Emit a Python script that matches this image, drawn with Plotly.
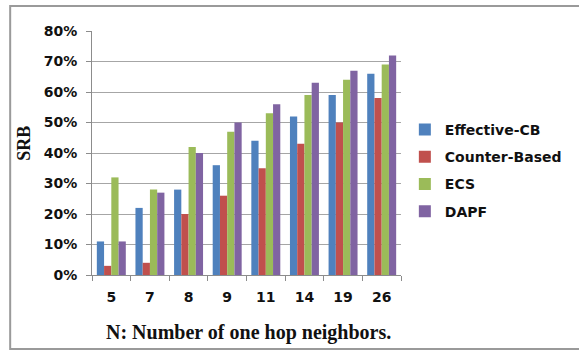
import plotly.graph_objects as go

# Number of one-hop neighbours (categories on the x axis)
neighbors = ["5", "7", "8", "9", "11", "14", "19", "26"]

# SRB per scheme, in percent
effective_cb = [11, 22, 28, 36, 44, 52, 59, 66]
counter_based = [3, 4, 20, 26, 35, 43, 50, 58]
ecs = [32, 28, 42, 47, 53, 59, 64, 69]
dapf = [11, 27, 40, 50, 56, 63, 67, 72]

series_names = ["Effective-CB", "Counter-Based", "ECS", "DAPF"]
series_values = [effective_cb, counter_based, ecs, dapf]
colors = ["#4F81BD", "#C0504D", "#9BBB59", "#8064A2"]

y_ticks = [0, 0.1, 0.2, 0.3, 0.4, 0.5, 0.6, 0.7, 0.8]

W, H = 579, 351
L, R, T, B = 92, 166, 31, 76
PW, PH = W - L - R, H - T - B


def px_x(p):
    return (p - L) / PW


def px_y(p):
    return (H - B - p) / PH


sans = "DejaVu Sans"
serif = "Liberation Serif, Times New Roman, serif"

fig = go.Figure()
for name, vals, col in zip(series_names, series_values, colors):
    fig.add_trace(go.Bar(
        x=neighbors,
        y=[v / 100 for v in vals],
        name=name,
        marker=dict(color=col, line=dict(width=0)),
        legendgroup=name,
    ))

fig.update_layout(
    width=W, height=H,
    margin=dict(l=L, r=R, t=T, b=B, pad=0),
    paper_bgcolor="white",
    plot_bgcolor="white",
    barmode="group",
    bargap=0.25,
    bargroupgap=0,
    showlegend=True,
    legend=dict(
        x=px_x(417), y=px_y(114), xanchor="left", yanchor="top",
        font=dict(family=sans, size=14, color="#111111", weight="bold"),
        tracegroupgap=6,
        bgcolor="rgba(0,0,0,0)",
    ),
    xaxis=dict(
        type="category",
        showline=True, linecolor="#8c8c8c", linewidth=1,
        ticks="outside", tickson="boundaries", ticklen=5, tickcolor="#8c8c8c",
        ticklabelstandoff=9,
        tickfont=dict(family=sans, size=14, color="#111111", weight="bold"),
        showgrid=False,
    ),
    yaxis=dict(
        range=[0, 0.8],
        tickvals=y_ticks,
        tickformat=".0%",
        showline=True, linecolor="#8c8c8c", linewidth=1,
        ticks="outside", ticklen=5, tickcolor="#8c8c8c",
        ticklabelstandoff=6,
        tickfont=dict(family=sans, size=14, color="#111111", weight="bold"),
        showgrid=True, gridcolor="#a6a6a6", gridwidth=1,
        zeroline=False,
    ),
    annotations=[
        dict(text="<b>SRB</b>", xref="paper", yref="paper",
             x=px_x(21), y=px_y(143), xanchor="center", yanchor="middle",
             textangle=-90, showarrow=False,
             font=dict(family=serif, size=18, color="#111111")),
        dict(text="<b>N: Number of one hop neighbors.</b>", xref="paper", yref="paper",
             x=px_x(255), y=px_y(332), xanchor="center", yanchor="middle",
             showarrow=False, font=dict(family=serif, size=20, color="#111111")),
    ],
    shapes=[
        dict(type="rect", xref="paper", yref="paper",
             x0=px_x(7), x1=px_x(600), y0=px_y(349), y1=px_y(6),
             line=dict(color="#9a9a9a", width=2), fillcolor="rgba(0,0,0,0)",
             layer="below"),
    ],
)

fig.write_html("out.html")
